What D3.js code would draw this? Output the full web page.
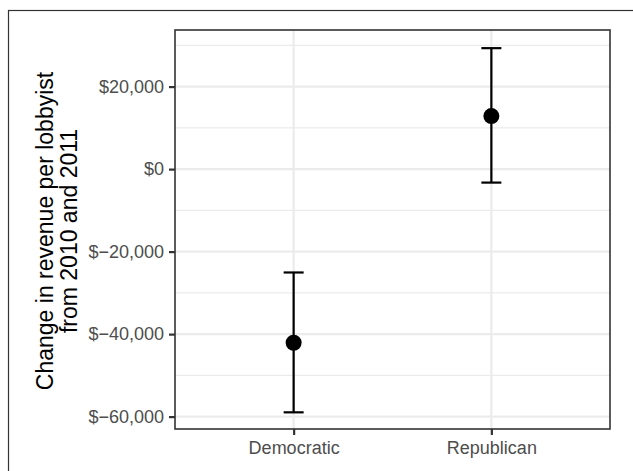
<!DOCTYPE html>
<html>
<head>
<meta charset="utf-8">
<script src="https://cdn.jsdelivr.net/npm/d3@7"></script>
<style>
	body { margin: 0; background: #fff; }
	svg { display: block; font-family: "Liberation Sans", Arial, sans-serif; }
</style>
</head>
<body>
<svg width="633" height="471"></svg>
<script>
const parties = ['Democratic', 'Republican'];
const means = [-42100, 12860];
const lowers = [-58960, -3270];
const uppers = [-25060, 29320];
const majorTicks = [-60000, -40000, -20000, 0, 20000];
const minorTicks = [-50000, -30000, -10000, 10000, 30000];
const titleLines = ['Change in revenue per lobbyist', 'from 2010 and 2011'];

const data = parties.map((p, i) => ({ party: p, mean: means[i], lower: lowers[i], upper: uppers[i] }));

const panelLeft = 175;
const panelRight = 610;
const panelTop = 30;
const panelBottom = 429;

const svg = d3.select('svg');

// frame round the whole plot
svg.append('rect')
	.attr('x', 8.5)
	.attr('y', 10.5)
	.attr('width', 700)
	.attr('height', 600)
	.attr('fill', 'none')
	.attr('stroke', '#333')
	.attr('stroke-width', 1.2);

const xScale = d3.scalePoint()
	.domain(parties)
	.range([panelLeft, panelRight])
	.padding(0.6);
const yScale = d3.scaleLinear()
	.domain([-63000, 33720])
	.range([panelBottom, panelTop]);

const label = (d) => d < 0 ? '$\u2212' + d3.format(',')(-d) : '$' + d3.format(',')(d);

const grid = svg.append('g');

grid.selectAll('.minor')
	.data(minorTicks)
	.enter()
	.append('line')
	.attr('x1', panelLeft)
	.attr('x2', panelRight)
	.attr('y1', d => yScale(d))
	.attr('y2', d => yScale(d))
	.attr('stroke', '#ebebeb')
	.attr('stroke-width', 1.1);

grid.selectAll('.major')
	.data(majorTicks)
	.enter()
	.append('line')
	.attr('x1', panelLeft)
	.attr('x2', panelRight)
	.attr('y1', d => yScale(d))
	.attr('y2', d => yScale(d))
	.attr('stroke', '#ebebeb')
	.attr('stroke-width', 2.2);

grid.selectAll('.vmajor')
	.data(parties)
	.enter()
	.append('line')
	.attr('x1', d => xScale(d))
	.attr('x2', d => xScale(d))
	.attr('y1', panelTop)
	.attr('y2', panelBottom)
	.attr('stroke', '#ebebeb')
	.attr('stroke-width', 2.2);

const bars = svg.append('g')
	.selectAll('g')
	.data(data)
	.enter()
	.append('g');

bars.append('line')
	.attr('x1', d => xScale(d.party))
	.attr('x2', d => xScale(d.party))
	.attr('y1', d => yScale(d.lower))
	.attr('y2', d => yScale(d.upper))
	.attr('stroke', '#000')
	.attr('stroke-width', 2.2);

bars.selectAll('.cap')
	.data(d => [[d.party, d.lower], [d.party, d.upper]])
	.enter()
	.append('line')
	.attr('x1', d => xScale(d[0]) - 10)
	.attr('x2', d => xScale(d[0]) + 10)
	.attr('y1', d => yScale(d[1]))
	.attr('y2', d => yScale(d[1]))
	.attr('stroke', '#000')
	.attr('stroke-width', 2.2);

bars.append('circle')
	.attr('cx', d => xScale(d.party))
	.attr('cy', d => yScale(d.mean))
	.attr('r', 8)
	.attr('fill', '#000');

const yAxis = d3.axisLeft(yScale)
	.tickValues(majorTicks)
	.tickSize(6)
	.tickPadding(5)
	.tickFormat(label);
const xAxis = d3.axisBottom(xScale)
	.tickSize(6)
	.tickPadding(6);

const gy = svg.append('g')
	.attr('transform', 'translate(' + panelLeft + ',0)')
	.call(yAxis);
const gx = svg.append('g')
	.attr('transform', 'translate(0,' + panelBottom + ')')
	.call(xAxis);

[gy, gx].forEach(g => {
	g.select('.domain').remove();
	g.selectAll('.tick line')
		.attr('stroke', '#333')
		.attr('stroke-width', 2.2);
	g.selectAll('.tick text')
		.attr('fill', '#4d4d4d')
		.style('font-size', '18px')
		.style('font-family', '"Liberation Sans", Arial, sans-serif');
});

// panel border
svg.append('rect')
	.attr('x', panelLeft)
	.attr('y', panelTop)
	.attr('width', panelRight - panelLeft)
	.attr('height', panelBottom - panelTop)
	.attr('fill', 'none')
	.attr('stroke', '#333')
	.attr('stroke-width', 1.6);

svg.append('text')
	.attr('transform', 'translate(0,231) rotate(-90)')
	.attr('text-anchor', 'middle')
	.style('font-size', '23px')
	.attr('fill', '#000')
	.selectAll('tspan')
	.data(titleLines)
	.enter()
	.append('tspan')
	.attr('x', 0)
	.attr('y', (d, i) => 53 + 24 * i)
	.text(d => d);
</script>
</body>
</html>
